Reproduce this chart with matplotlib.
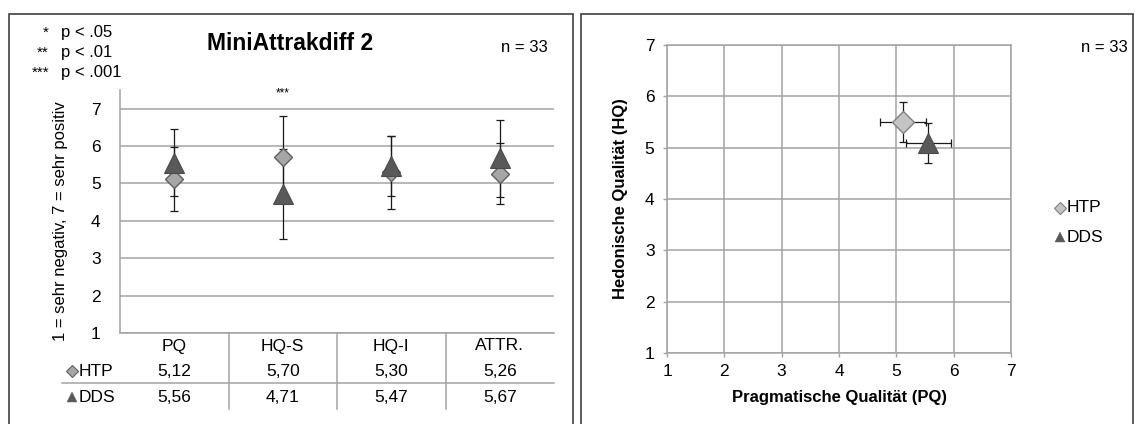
import matplotlib
matplotlib.use("Agg")
import matplotlib.pyplot as plt
from matplotlib.patches import Rectangle
from matplotlib.lines import Line2D
from matplotlib.transforms import blended_transform_factory

plt.rcParams['font.family'] = ['Liberation Sans', 'DejaVu Sans']

W, H, DPI = 1135, 424, 100

# --- left panel: mean scores per scale ---
categories = ["PQ", "HQ-S", "HQ-I", "ATTR."]
htp_mean = [5.12, 5.70, 5.30, 5.26]
dds_mean = [5.56, 4.71, 5.47, 5.67]
htp_sd = [0.85, 1.11, 0.97, 0.81]
dds_sd = [0.89, 1.20, 0.80, 1.02]
significance = ["", "***", "", ""]
sig_stars = ["*", "**", "***"]
sig_levels = ["p < .05", "p < .01", "p < .001"]
n_label = "n = 33"

# --- right panel: portfolio PQ vs HQ ---
groups = ["HTP", "DDS"]
pq_mean = [5.12, 5.56]
hq_mean = [5.50, 5.09]
pq_ci = [0.40, 0.40]
hq_ci = [0.39, 0.39]

C_DIA = '#A6A6A6'
C_DIA_EDGE = '#5F5F5F'
C_DIA2 = '#C4C4C4'
C_DIA2_EDGE = '#7F7F7F'
C_TRI = '#595959'
C_TRI_EDGE = '#4A4A4A'
C_GRID = '#A3A3A3'
C_ERR = '#1A1A1A'
C_BOX = '#404040'

FS_TICK = 12.5
FS_TABLE = 12.5


def fx(px):
    return px / W


def fy(py):
    return 1 - py / H


fig = plt.figure(figsize=(W / DPI, H / DPI), dpi=DPI)
fig.patch.set_facecolor('white')

# panel frames
for x0, x1 in [(9, 573), (581, 1133)]:
    fig.add_artist(Rectangle((fx(x0), fy(440)), fx(x1) - fx(x0), fy(14) - fy(440),
                             transform=fig.transFigure, fill=False,
                             edgecolor=C_BOX, linewidth=1.2))

# ================= left chart =================
ax1 = fig.add_axes([fx(120), fy(333), fx(554) - fx(120), fy(90) - fy(333)])
xs = list(range(len(categories)))
ax1.set_xlim(-0.5, len(categories) - 0.5)
ax1.set_ylim(1, 7.5)
ax1.set_yticks(range(1, 8))
ax1.set_xticks([])
ax1.yaxis.grid(True, color=C_GRID, linewidth=1.1)
ax1.set_axisbelow(True)
for s in ['top', 'right']:
    ax1.spines[s].set_visible(False)
for s in ['left', 'bottom']:
    ax1.spines[s].set_color(C_GRID)
    ax1.spines[s].set_linewidth(1.1)
ax1.tick_params(axis='y', length=0, pad=14, labelsize=FS_TICK)

err_kw = dict(fmt='none', ecolor=C_ERR, elinewidth=0.9, capsize=2.9, capthick=0.9)
ax1.errorbar(xs, htp_mean, yerr=htp_sd, zorder=3, **err_kw)
ax1.errorbar(xs, dds_mean, yerr=dds_sd, zorder=3, **err_kw)
ax1.plot(xs, htp_mean, 'D', ms=9.6, mfc=C_DIA, mec=C_DIA_EDGE, mew=1.0,
         linestyle='none', zorder=4)
ax1.plot(xs, dds_mean, '^', ms=15, mfc=C_TRI, mec=C_TRI_EDGE, mew=0.8,
         linestyle='none', zorder=5)

for x, s in zip(xs, significance):
    if s:
        ax1.text(x, 7.41, s, ha='center', va='center', fontsize=8.5)

# rotated scale description on the left
fig.text(fx(61), 0.5 * (fy(100) + fy(342)), "1 = sehr negativ, 7 = sehr positiv",
         rotation=90, ha='center', va='center', fontsize=12)

# data table under the chart
tx = blended_transform_factory(ax1.transData, fig.transFigure)
row_cat, row_htp, row_dds = fy(346), fy(371), fy(397)
for x, c, a, b in zip(xs, categories, htp_mean, dds_mean):
    fig.text(x, row_cat, c, transform=tx, ha='center', va='center', fontsize=FS_TABLE)
    fig.text(x, row_htp, f"{a:.2f}".replace('.', ','), transform=tx,
             ha='center', va='center', fontsize=FS_TABLE)
    fig.text(x, row_dds, f"{b:.2f}".replace('.', ','), transform=tx,
             ha='center', va='center', fontsize=FS_TABLE)
for xb in [0.5, 1.5, 2.5]:
    fig.add_artist(Line2D([xb, xb], [fy(333), fy(409)], transform=tx,
                          color=C_GRID, linewidth=1.1))
fig.add_artist(Line2D([fx(62), fx(554)], [fy(383), fy(383)],
                      transform=fig.transFigure, color=C_GRID, linewidth=1.1))

# row headers with series symbols
fig.add_artist(Line2D([fx(72)], [row_htp], transform=fig.transFigure, marker='D',
                      ms=5.8, mfc=C_DIA, mec=C_DIA_EDGE, mew=0.8, linestyle='none'))
fig.add_artist(Line2D([fx(72)], [row_dds], transform=fig.transFigure, marker='^',
                      ms=7.5, mfc=C_TRI, mec=C_TRI, mew=0.3, linestyle='none'))
fig.text(fx(79), row_htp, groups[0], ha='left', va='center', fontsize=FS_TABLE)
fig.text(fx(79), row_dds, groups[1], ha='left', va='center', fontsize=FS_TABLE)

# significance key, title and sample size
for i, (st, lv) in enumerate(zip(sig_stars, sig_levels)):
    y = fy(33 + 20 * i)
    fig.text(fx(49), y, st, ha='right', va='center', fontsize=11)
    fig.text(fx(61), y, lv, ha='left', va='center', fontsize=12)
fig.text(fx(290), fy(44), "MiniAttrakdiff 2", ha='center', va='center',
         fontsize=16.5, weight='bold')
fig.text(fx(548), fy(47), n_label, ha='right', va='center', fontsize=12)

# ================= right chart =================
ax2 = fig.add_axes([fx(667), fy(353), fx(1011) - fx(667), fy(45) - fy(353)])
ax2.set_xlim(1, 7)
ax2.set_ylim(1, 7)
ax2.set_xticks(range(1, 8))
ax2.set_yticks(range(1, 8))
ax2.grid(True, color=C_GRID, linewidth=1.1)
ax2.set_axisbelow(True)
for s in ax2.spines.values():
    s.set_color(C_GRID)
    s.set_linewidth(1.1)
ax2.tick_params(length=3, width=1.0, color=C_GRID, labelsize=FS_TICK, pad=5)
ax2.tick_params(axis='y', pad=6)

err_kw2 = dict(fmt='none', ecolor=C_ERR, elinewidth=0.9, capsize=2.8, capthick=0.9)
ax2.errorbar(pq_mean[:1], hq_mean[:1], xerr=pq_ci[:1], yerr=hq_ci[:1], zorder=3, **err_kw2)
ax2.errorbar(pq_mean[1:], hq_mean[1:], xerr=pq_ci[1:], yerr=hq_ci[1:], zorder=3, **err_kw2)
ax2.plot(pq_mean[:1], hq_mean[:1], 'D', ms=11, mfc=C_DIA2, mec=C_DIA2_EDGE, mew=1.0,
         linestyle='none', zorder=4)
ax2.plot(pq_mean[1:], hq_mean[1:], '^', ms=14, mfc=C_TRI, mec=C_TRI_EDGE, mew=0.8,
         linestyle='none', zorder=5)

ax2.set_xlabel("Pragmatische Qualität (PQ)", fontsize=12, weight='bold', labelpad=8)
ax2.set_ylabel("Hedonische Qualität (HQ)", fontsize=12, weight='bold', labelpad=12)

# legend
fig.add_artist(Line2D([fx(1060)], [fy(208)], transform=fig.transFigure, marker='D',
                      ms=5.8, mfc=C_DIA2, mec=C_DIA2_EDGE, mew=0.8, linestyle='none'))
fig.add_artist(Line2D([fx(1060)], [fy(237)], transform=fig.transFigure, marker='^',
                      ms=7.5, mfc=C_TRI, mec=C_TRI, mew=0.3, linestyle='none'))
fig.text(fx(1067), fy(208), groups[0], ha='left', va='center', fontsize=FS_TABLE)
fig.text(fx(1067), fy(237), groups[1], ha='left', va='center', fontsize=FS_TABLE)
fig.text(fx(1128), fy(47), n_label, ha='right', va='center', fontsize=12)

fig.savefig("out.png", dpi=DPI, facecolor='white')
